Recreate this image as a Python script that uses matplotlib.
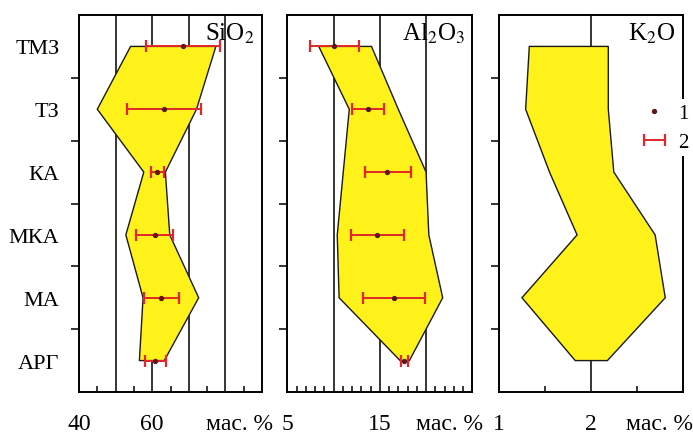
import matplotlib
matplotlib.use("Agg")
import matplotlib.pyplot as plt
import numpy as np

plt.rcParams['font.family'] = ['Liberation Serif', 'DejaVu Serif']
plt.rcParams['mathtext.fontset'] = 'stix'

categories = ['ТМЗ', 'ТЗ', 'КА', 'МКА', 'МА', 'АРГ']

# SiO2
sio2_min = [54.1, 45.0, 57.7, 52.8, 57.5, 56.5]
sio2_max = [77.4, 72.1, 63.6, 64.8, 72.7, 63.3]
sio2_mean = [68.3, 63.2, 61.4, 60.7, 62.5, 60.7]
sio2_lo = [58.2, 53.2, 59.6, 55.7, 57.7, 58.0]
sio2_hi = [78.5, 73.3, 63.2, 65.7, 67.2, 63.7]

# Al2O3
al_min = [8.4, 11.7, 11.05, 10.4, 10.6, 17.2]
al_max = [14.1, 17.0, 20.0, 20.3, 21.8, 18.2]
al_mean = [10.0, 13.7, 15.8, 14.7, 16.5, 17.6]
al_lo = [7.4, 12.0, 13.4, 11.9, 13.2, 17.25]
al_hi = [12.7, 15.4, 18.4, 17.6, 19.9, 18.1]

# K2O
k_min = [1.33, 1.29, 1.55, 1.85, 1.25, 1.83]
k_max = [2.19, 2.19, 2.25, 2.70, 2.81, 2.18]

W, H = 693, 435
fig = plt.figure(figsize=(W / 100, H / 100), dpi=100)

def fx(px):
    return px / W

def fy(py):
    return 1 - py / H

top, bot = 16, 393
panels = [
    dict(l=79, r=262, xlim=(40, 90), major=[40, 50, 60, 70, 80, 90],
         labels={40: '40', 60: '60'}, minor=[45, 55, 65, 75, 85],
         grid=[50, 60, 70, 80], title='SiO$_2$',
         vmin=sio2_min, vmax=sio2_max, mean=sio2_mean, lo=sio2_lo, hi=sio2_hi),
    dict(l=287.3, r=472.3, xlim=(5, 25), major=[5, 10, 15, 20, 25],
         labels={5: '5', 15: '15'}, minor=[v for v in range(6, 25) if v % 5],
         grid=[10, 15, 20], title='Al$_2$O$_3$',
         vmin=al_min, vmax=al_max, mean=al_mean, lo=al_lo, hi=al_hi),
    dict(l=499, r=682.7, xlim=(1, 3), major=[1, 2, 3],
         labels={1: '1', 2: '2'}, minor=[1.5, 2.5],
         grid=[2], title='K$_2$O',
         vmin=k_min, vmax=k_max, mean=None, lo=None, hi=None),
]

ypos = np.arange(len(categories))
eb_handle = None
dot_handle = None
for i, p in enumerate(panels):
    ax = fig.add_axes([fx(p['l']), fy(bot), fx(p['r'] - p['l']), (bot - top) / H])
    ax.set_xlim(*p['xlim'])
    ax.set_ylim(len(categories) - 0.5, -0.5)
    for g in p['grid']:
        ax.axvline(g, color='black', lw=1.1, zorder=1)
    xs = list(p['vmin']) + list(p['vmax'])[::-1]
    ys = list(ypos) + list(ypos)[::-1]
    ax.fill(xs, ys, facecolor='#fff21a', edgecolor='#1a1a1a', lw=1.0, zorder=2)
    if p['mean'] is not None:
        mean = np.array(p['mean'])
        xerr = [mean - np.array(p['lo']), np.array(p['hi']) - mean]
        eb = ax.errorbar(mean, ypos, xerr=xerr, fmt='none', ecolor='#e3262b',
                         elinewidth=1.4, capsize=4, capthick=1.6, zorder=3)
        dl, = ax.plot(mean, ypos, 'o', color='#5e1616', ms=2.8, zorder=4)
        eb_handle, dot_handle = eb, dl
    ax.set_xticks(p['major'])
    ax.set_xticklabels([p['labels'].get(v, '') for v in p['major']], fontsize=17)
    ax.set_xticks(p['minor'], minor=True)
    ax.tick_params(axis='x', which='major', length=0, pad=15)
    ax.tick_params(axis='x', which='minor', direction='in', length=4, width=1.1)
    ax.set_yticks(ypos)
    if i == 0:
        ax.set_yticklabels(categories, fontsize=16)
    else:
        ax.set_yticklabels([])
    ax.set_yticks(ypos[:-1] + 0.5, minor=True)
    ax.tick_params(axis='y', which='major', length=0, pad=14)
    ax.tick_params(axis='y', which='minor', direction='out', length=6, width=1.1)
    for s in ax.spines.values():
        s.set_linewidth(1.4)
    ax.text(0.96, 0.985, p['title'], transform=ax.transAxes, ha='right', va='top',
            fontsize=18)
    ax.annotate('мас. %', xy=(0.875, 0), xycoords='axes fraction',
                xytext=(0, -15), textcoords='offset points', ha='center', va='top',
                fontsize=17)

leg = fig.legend([dot_handle, eb_handle], ['1', '2'], loc='upper left',
                 bbox_to_anchor=(fx(626), fy(90)), frameon=True, facecolor='white',
                 edgecolor='none', framealpha=1, fontsize=15, handlelength=1.3,
                 handletextpad=0.5, borderpad=0.2, labelspacing=0.45)

fig.savefig('out.png', dpi=100)
